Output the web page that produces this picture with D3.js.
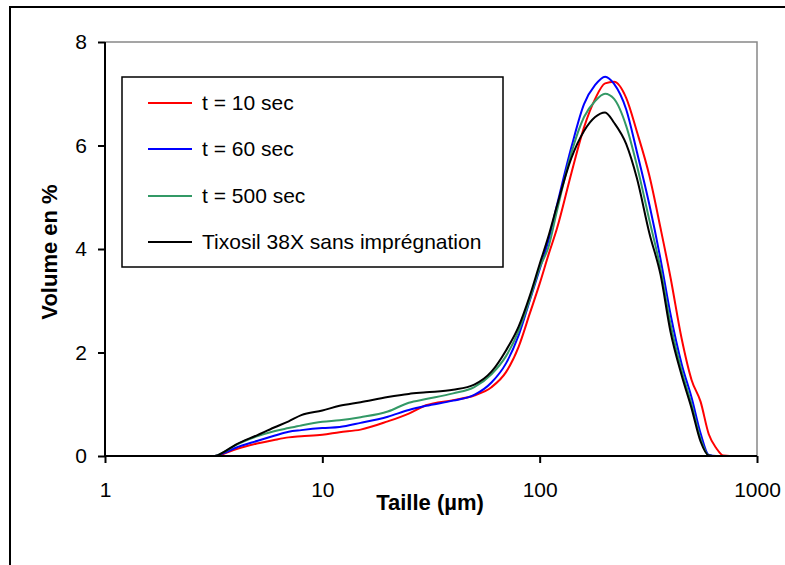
<!DOCTYPE html>
<html>
<head>
<meta charset="utf-8">
<script src="https://cdn.jsdelivr.net/npm/d3@7"></script>
<style>
  body { margin: 0; background: #fff; }
  svg { font-family: "Liberation Sans", Arial, sans-serif; }
</style>
</head>
<body>
<div id="chart"></div>
<script>
const width = 785;
const height = 565;

// particle sizes (µm) shared by all series
var sizes = [1, 3.2, 3.5, 4, 5, 6, 7, 8, 10, 12, 15, 20, 25, 30, 40, 50, 60, 70, 80, 90,
  100, 110, 120, 140, 160, 180, 200, 220, 250, 280, 320, 360, 400, 450, 500, 550,
  600, 650, 700, 800, 1000];

var t10 = [0, 0, 0.04, 0.13, 0.24, 0.31, 0.36, 0.38, 0.41, 0.46, 0.51, 0.67, 0.82, 0.98, 1.08, 1.17, 1.33, 1.62, 2.11, 2.75,
  3.33, 3.90, 4.39, 5.47, 6.35, 6.90, 7.20, 7.23, 6.92, 6.27, 5.41, 4.40, 3.45, 2.27, 1.47, 1.05,
  0.42, 0.15, 0.01, 0, 0];
var t60 = [0, 0, 0.05, 0.16, 0.29, 0.39, 0.47, 0.50, 0.54, 0.56, 0.64, 0.76, 0.89, 0.97, 1.07, 1.18, 1.42, 1.79, 2.33, 3.00,
  3.61, 4.18, 4.84, 5.97, 6.80, 7.17, 7.33, 7.19, 6.70, 5.88, 4.85, 3.80, 2.74, 1.78, 1.13, 0.44,
  0.02, 0, 0, 0, 0];
var t500 = [0, 0, 0.07, 0.21, 0.38, 0.48, 0.54, 0.59, 0.66, 0.69, 0.75, 0.86, 1.03, 1.10, 1.21, 1.33, 1.58, 1.93, 2.42, 3.02,
  3.64, 4.05, 4.73, 5.86, 6.55, 6.86, 7.00, 6.90, 6.38, 5.62, 4.55, 3.62, 2.55, 1.65, 1.00, 0.33,
  0.01, 0, 0, 0, 0];
var tixosil = [0, 0, 0.07, 0.22, 0.40, 0.55, 0.67, 0.79, 0.88, 0.97, 1.04, 1.14, 1.20, 1.23, 1.28, 1.38, 1.63, 2.04, 2.50, 3.09,
  3.71, 4.26, 4.83, 5.76, 6.28, 6.55, 6.64, 6.44, 6.03, 5.37, 4.30, 3.50, 2.40, 1.56, 0.92, 0.28,
  0.01, 0, 0, 0, 0];

var seriesNames = ["t = 10 sec", "t = 60 sec", "t = 500 sec", "Tixosil 38X sans imprégnation"];
var seriesColors = ["#ff0000", "#0000ff", "#339966", "#000000"];
var seriesValues = [t10, t60, t500, tixosil];

var xTicks = [1, 10, 100, 1000];
var yTicks = [0, 2, 4, 6, 8];

var plot = {left: 105, top: 42, right: 757, bottom: 456};

var svg = d3.select("#chart").append("svg")
  .attr("width", width).attr("height", height);

svg.append("rect")
  .attr("width", width).attr("height", height).attr("fill", "#fff");

// outer frame (cut by the picture on the right and bottom)
svg.append("rect")
  .attr("x", 10).attr("y", 7)
  .attr("width", 800).attr("height", 600)
  .attr("fill", "none").attr("stroke", "#000").attr("stroke-width", 2);

var x = d3.scaleLog().domain([1, 1000]).range([plot.left, plot.right]);
var y = d3.scaleLinear().domain([0, 8]).range([plot.bottom, plot.top]);

// plot area border, grey on top and right
svg.append("path")
  .attr("d", `M${plot.left},${plot.top}H${plot.right}V${plot.bottom}`)
  .attr("fill", "none").attr("stroke", "#888").attr("stroke-width", 1.5);

// series
var line = d3.line()
  .x((d, i) => x(sizes[i]))
  .y((d) => y(d))
  .curve(d3.curveMonotoneX);

svg.selectAll("path.series")
  .data(seriesValues)
  .enter()
  .append("path")
  .attr("class", "series")
  .attr("d", (d) => line(d))
  .attr("fill", "none")
  .attr("stroke", (d, i) => seriesColors[i])
  .attr("stroke-width", 2)
  .attr("stroke-linejoin", "round");

// axes
var yAxis = svg.append("g")
  .attr("transform", `translate(${plot.left},0)`)
  .call(d3.axisLeft(y).tickValues(yTicks).tickSize(7).tickPadding(11).tickFormat(d3.format("d")));

var xAxis = svg.append("g")
  .attr("transform", `translate(0,${plot.bottom})`)
  .call(d3.axisBottom(x).tickValues(xTicks).tickSize(7).tickPadding(19).tickFormat(d3.format("d")));

[xAxis, yAxis].forEach((g) => {
  g.select(".domain").attr("stroke", "#000").attr("stroke-width", 2);
  g.selectAll(".tick line").attr("stroke", "#000").attr("stroke-width", 2);
  g.selectAll(".tick text")
    .attr("fill", "#000")
    .style("font-size", "21px")
    .style("font-family", "Liberation Sans, Arial, sans-serif");
});
xAxis.select(".domain").attr("d", `M${plot.left},0H${plot.right}`);
yAxis.select(".domain").attr("d", `M0,${plot.bottom}V${plot.top}`);

// axis titles
svg.append("text")
  .attr("x", 430).attr("y", 510)
  .attr("text-anchor", "middle")
  .style("font-size", "22px").style("font-weight", "bold")
  .text("Taille (µm)");

svg.append("text")
  .attr("transform", "translate(57,252) rotate(-90)")
  .attr("text-anchor", "middle")
  .style("font-size", "22px").style("font-weight", "bold")
  .text("Volume en %");

// legend
var legend = svg.append("g");
legend.append("rect")
  .attr("x", 122).attr("y", 77)
  .attr("width", 381).attr("height", 190)
  .attr("fill", "#fff").attr("stroke", "#000").attr("stroke-width", 1.5);

var rowY = [103, 149, 196, 242];
var items = legend.selectAll("g.item")
  .data(seriesNames)
  .enter()
  .append("g")
  .attr("class", "item")
  .attr("transform", (d, i) => `translate(0,${rowY[i]})`);

items.append("line")
  .attr("x1", 148).attr("x2", 192)
  .attr("stroke", (d, i) => seriesColors[i])
  .attr("stroke-width", 2);

items.append("text")
  .attr("x", 202)
  .attr("dy", "0.35em")
  .style("font-size", "21px")
  .text((d) => d);
</script>
</body>
</html>
